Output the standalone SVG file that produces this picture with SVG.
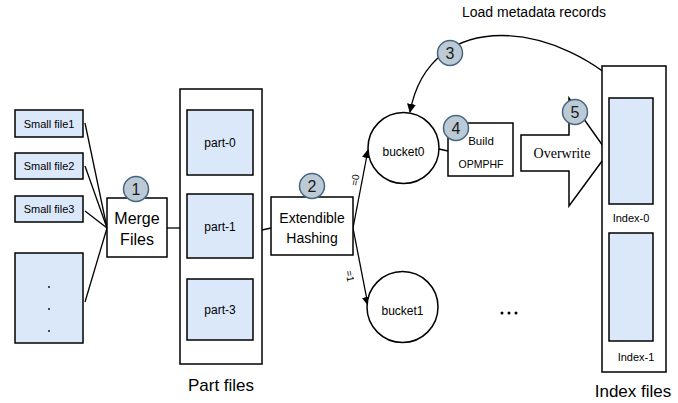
<svg xmlns="http://www.w3.org/2000/svg" width="678" height="403" viewBox="0 0 678 403">
  <style>
    .box { fill: #ffffff; stroke: #000000; stroke-width: 1.5; }
    .file { fill: #dbe8fa; stroke: #000000; stroke-width: 1.5; }
    .line { fill: none; stroke: #000000; stroke-width: 1.3; }
    .step { fill: #bccad6; stroke: #47657f; stroke-width: 1.5; }
    .stepnum { font-family: "Liberation Sans", Arial, sans-serif; font-size: 16px; fill: #1a1a1a; text-anchor: middle; }
    .t { font-family: "Liberation Sans", Arial, sans-serif; fill: #000000; text-anchor: middle; }
    .serif { font-family: "Liberation Serif", "Times New Roman", serif; fill: #000000; text-anchor: middle; }
  </style>
  <defs>
    <marker id="arrow" viewBox="0 0 10 10" refX="9" refY="5" markerWidth="9" markerHeight="9" markerUnits="userSpaceOnUse" orient="auto">
      <path d="M0,0 L10,5 L0,10 z" fill="#000000"/>
    </marker>
  </defs>
  <rect width="678" height="403" fill="#ffffff"/>

  <!-- connectors -->
  <g id="connectors">
    <line class="line" x1="85" y1="123" x2="107" y2="228"/>
    <line class="line" x1="85" y1="166" x2="107" y2="228"/>
    <line class="line" x1="85" y1="211" x2="107" y2="228"/>
    <line class="line" x1="85" y1="302" x2="107" y2="228"/>
    <line class="line" x1="167" y1="228" x2="180" y2="228"/>
    <line class="line" x1="262" y1="230" x2="271" y2="228"/>
    <line class="line" x1="353" y1="228" x2="368" y2="150" marker-end="url(#arrow)"/>
    <line class="line" x1="353" y1="228" x2="368" y2="305" marker-end="url(#arrow)"/>
    <text class="t" font-size="10" transform="translate(355,180) rotate(-80)" dy="3.5">=0</text>
    <text class="t" font-size="10" transform="translate(350,276) rotate(80)" dy="3.5">=1</text>
    <line class="line" x1="439" y1="149" x2="448" y2="151"/>
    <path class="line" d="M632,97 C560,20 430,5 410,112" marker-end="url(#arrow)"/>
    <text class="t" font-size="14" x="534" y="17">Load metadata records</text>
  </g>

  <!-- small input files -->
  <g id="small-file1">
    <rect class="file" x="15" y="110" width="68" height="27"/>
    <text class="t" font-size="11" x="49" y="127.5">Small file1</text>
  </g>
  <g id="small-file2">
    <rect class="file" x="15" y="153" width="68" height="26"/>
    <text class="t" font-size="11" x="49" y="170">Small file2</text>
  </g>
  <g id="small-file3">
    <rect class="file" x="15" y="196" width="68" height="26"/>
    <text class="t" font-size="11" x="49" y="213">Small file3</text>
  </g>
  <g id="small-more">
    <rect class="file" x="15" y="253" width="68" height="90"/>
    <circle cx="49" cy="287" r="0.9" fill="#000"/>
    <circle cx="49" cy="309" r="0.9" fill="#000"/>
    <circle cx="49" cy="331" r="0.9" fill="#000"/>
  </g>

  <!-- merge step -->
  <g id="merge-files">
    <rect class="box" x="107" y="198" width="60" height="59"/>
    <text class="t" font-size="16" x="137" y="224">Merge</text>
    <text class="t" font-size="16" x="137" y="245">Files</text>
    <circle class="step" cx="136" cy="189" r="12.5"/>
    <text class="stepnum" x="136" y="195">1</text>
  </g>

  <!-- part files -->
  <g id="part-files">
    <rect class="box" x="180" y="89" width="82" height="275"/>
    <rect class="file" x="187" y="110" width="66" height="65"/>
    <text class="t" font-size="12" x="220" y="147">part-0</text>
    <rect class="file" x="187" y="194" width="66" height="64"/>
    <text class="t" font-size="12" x="220" y="231">part-1</text>
    <rect class="file" x="187" y="279" width="66" height="61"/>
    <text class="t" font-size="12" x="220" y="314">part-3</text>
    <text class="t" font-size="17" x="221" y="391">Part files</text>
  </g>

  <!-- hashing step -->
  <g id="extendible-hashing">
    <rect class="box" x="271" y="197" width="82" height="58"/>
    <text class="t" font-size="14" x="312" y="223">Extendible</text>
    <text class="t" font-size="14" x="312" y="243">Hashing</text>
    <circle class="step" cx="312" cy="186" r="12.5"/>
    <text class="stepnum" x="312" y="192">2</text>
  </g>

  <!-- buckets -->
  <g id="bucket0">
    <circle class="box" cx="403.5" cy="148" r="35.5"/>
    <text class="t" font-size="12" x="403.5" y="156">bucket0</text>
  </g>
  <g id="bucket1">
    <circle class="box" cx="402.5" cy="307" r="35.5"/>
    <text class="t" font-size="12" x="402.5" y="315">bucket1</text>
  </g>
  <g id="more-buckets">
    <circle cx="502" cy="313" r="1.5" fill="#000"/>
    <circle cx="509" cy="313" r="1.5" fill="#000"/>
    <circle cx="516" cy="313" r="1.5" fill="#000"/>
  </g>

  <!-- step 3 marker on the load curve -->
  <g id="load-step">
    <circle class="step" cx="450" cy="53" r="12.5"/>
    <text class="stepnum" x="450" y="59">3</text>
  </g>

  <!-- build step -->
  <g id="build-opmphf">
    <rect class="box" x="448" y="123" width="65" height="53"/>
    <text class="t" font-size="11.5" x="481" y="145">Build</text>
    <text class="t" font-size="10.5" x="481" y="168">OPMPHF</text>
    <circle class="step" cx="456" cy="128" r="12.5"/>
    <text class="stepnum" x="456" y="134">4</text>
  </g>

  <!-- overwrite block arrow -->
  <g id="overwrite">
    <path class="box" d="M521,135 L569,135 L569,98 L608,153 L569,206 L569,171 L521,171 Z"/>
    <text class="serif" font-size="14" x="562" y="158">Overwrite</text>
    <circle class="step" cx="575" cy="112" r="12.5"/>
    <text class="stepnum" x="575" y="118">5</text>
  </g>

  <!-- index files -->
  <g id="index-files">
    <rect class="box" x="602" y="66" width="64" height="306"/>
    <rect class="file" x="609" y="98" width="44" height="106"/>
    <text class="t" font-size="11" x="631" y="222">Index-0</text>
    <rect class="file" x="609" y="233" width="44" height="108"/>
    <text class="t" font-size="11" x="636" y="361">Index-1</text>
    <text class="t" font-size="17" x="633" y="397">Index files</text>
  </g>
</svg>
